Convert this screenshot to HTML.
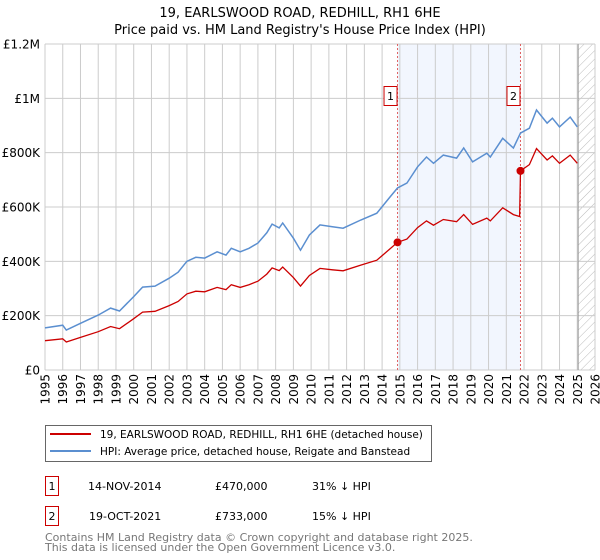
<!DOCTYPE html>
<html><head><meta charset="utf-8"><style>
body{margin:0;background:#fff;font-family:"DejaVu Sans","Liberation Sans",sans-serif;}
svg{display:block}
</style></head><body>
<svg id="c" width="600" height="560" xmlns="http://www.w3.org/2000/svg" font-family="DejaVu Sans, Liberation Sans, sans-serif">
<text x="300" y="17" text-anchor="middle" font-size="13" fill="#000">19, EARLSWOOD ROAD, REDHILL, RH1 6HE</text>
<text x="300" y="34" text-anchor="middle" font-size="13" fill="#000">Price paid vs. HM Land Registry's House Price Index (HPI)</text>
<defs><pattern id="hatch" width="6" height="6" patternUnits="userSpaceOnUse" patternTransform="rotate(45)"><line x1="0" y1="0" x2="0" y2="6" stroke="#bbb" stroke-width="1"/></pattern></defs>
<g id="plot"></g>
<g>
<rect x="45.5" y="425.5" width="386" height="36" fill="#fff" stroke="#666"/>
<line x1="50" y1="434" x2="91" y2="434" stroke="#cc0000" stroke-width="2"/>
<text x="100" y="438" font-size="10.5">19, EARLSWOOD ROAD, REDHILL, RH1 6HE (detached house)</text>
<line x1="50" y1="451" x2="91" y2="451" stroke="#5b8fd0" stroke-width="2"/>
<text x="100" y="455" font-size="10.5">HPI: Average price, detached house, Reigate and Banstead</text>
</g>
<g font-size="11">
<rect x="45.5" y="476.5" width="13" height="19" fill="#fff" stroke="#cc0000"/>
<text x="52" y="490" text-anchor="middle">1</text>
<text x="88" y="490">14-NOV-2014</text>
<text x="215" y="490">£470,000</text>
<text x="312" y="490">31% ↓ HPI</text>
<rect x="45.5" y="506.5" width="13" height="19" fill="#fff" stroke="#cc0000"/>
<text x="52" y="520" text-anchor="middle">2</text>
<text x="89" y="520">19-OCT-2021</text>
<text x="215" y="520">£733,000</text>
<text x="312" y="520">15% ↓ HPI</text>
</g>
<text x="45" y="541" font-size="11" fill="#777">Contains HM Land Registry data © Crown copyright and database right 2025.</text>
<text x="45" y="551" font-size="11" fill="#777">This data is licensed under the Open Government Licence v3.0.</text>
</svg>
<script>
const hpiYears=[1995.0,1996.0,1996.2,1997.0,1998.0,1998.7,1999.2,2000.0,2000.5,2001.2,2002.0,2002.5,2003.0,2003.5,2004.0,2004.7,2005.2,2005.5,2006.0,2006.5,2007.0,2007.5,2007.8,2008.2,2008.4,2009.0,2009.4,2009.9,2010.5,2011.2,2011.8,2012.8,2013.7,2014.45,2014.87,2015.4,2016.0,2016.5,2016.9,2017.45,2018.2,2018.6,2019.1,2019.9,2020.1,2020.8,2021.4,2021.8,2022.3,2022.7,2023.3,2023.6,2024.0,2024.6,2025.0];
const hpiValues=[155,165,147,172,202,228,217,270,305,309,338,360,400,415,412,435,423,448,435,448,467,505,537,523,541,485,441,497,534,527,522,552,577,637,670,688,748,784,761,791,780,817,766,798,784,853,817,872,890,957,909,927,895,931,895];
const redYears=[1995.0,1996.0,1996.2,1997.0,1998.0,1998.7,1999.2,2000.0,2000.5,2001.2,2002.0,2002.5,2003.0,2003.5,2004.0,2004.7,2005.2,2005.5,2006.0,2006.5,2007.0,2007.5,2007.8,2008.2,2008.4,2009.0,2009.4,2009.9,2010.5,2011.2,2011.8,2012.8,2013.7,2014.45,2014.87,2015.4,2016.0,2016.5,2016.9,2017.45,2018.2,2018.6,2019.1,2019.9,2020.1,2020.8,2021.4,2021.75,2021.8,2022.3,2022.7,2023.3,2023.6,2024.0,2024.6,2025.0];
const redValues=[108,115,103,120,141,160,152,189,213,216,237,252,280,290,288,304,296,314,304,314,327,353,376,366,379,340,309,348,374,369,365,386,404,446,470,482,524,549,533,554,546,572,536,559,549,597,572,565,733,756,815,773,788,761,791,761];
const saleYears=[2014.87,2021.8];
const saleValues=[470,733];
const saleLabels=["1","2"];
const yTicks=[0,200,400,600,800,1000,1200];
const yTickLabels=["£0","£200K","£400K","£600K","£800K","£1M","£1.2M"];
const xTicks=[1995,1996,1997,1998,1999,2000,2001,2002,2003,2004,2005,2006,2007,2008,2009,2010,2011,2012,2013,2014,2015,2016,2017,2018,2019,2020,2021,2022,2023,2024,2025,2026];

const X0=45,X1=595,Y0=370,Y1=44;
const xs=y=>X0+(y-1995)/(2026-1995)*(X1-X0);
const ys=v=>Y0-v/1200*(Y0-Y1);
const NS="http://www.w3.org/2000/svg";
const g=document.getElementById('plot');
function mk(t,a,p){const e=document.createElementNS(NS,t);for(const k in a)e.setAttribute(k,a[k]);(p||g).appendChild(e);return e;}

const sh=mk('rect',{x:xs(saleYears[0]),y:Y1,width:xs(saleYears[1])-xs(saleYears[0]),height:Y0-Y1,fill:'#f2f6fe'});


const ht=mk('rect',{x:xs(2025.05),y:Y1,width:X1-xs(2025.05),height:Y0-Y1,fill:'url(#hatch)'});


xTicks.forEach(t=>{const l=mk('line',{x1:xs(t),x2:xs(t),y1:Y1,y2:Y0,stroke:'#ccc','stroke-width':1});


const tx=mk('text',{transform:`translate(${xs(t)+4.5},374) rotate(-90)`,'text-anchor':'end','font-size':'12',fill:'#000'});tx.textContent=t;

});
yTicks.forEach((t,i)=>{const l=mk('line',{x1:X0,x2:X1,y1:ys(t),y2:ys(t),stroke:'#ccc','stroke-width':1});


const tx=mk('text',{x:40,y:ys(t)+4.5,'text-anchor':'end','font-size':'12',fill:'#000'});tx.textContent=yTickLabels[i];

});
const nl=mk('line',{x1:xs(2025.05),x2:xs(2025.05),y1:Y1,y2:Y0,stroke:'#999','stroke-width':1});


saleYears.forEach((s,i)=>{const l=mk('line',{x1:xs(s),x2:xs(s),y1:Y1,y2:Y0,stroke:'#e06060','stroke-width':1,'stroke-dasharray':'2,2'});


const r=mk('rect',{x:xs(s)-13.5,y:86.5,width:13,height:19,fill:'#fff',stroke:'#cc0000'});


const t=mk('text',{x:xs(s)-7,y:100,'text-anchor':'middle','font-size':'11'});t.textContent=saleLabels[i];

});
const hp=mk('path',{d:hpiYears.map((y,i)=>(i?'L':'M')+xs(y).toFixed(1)+','+ys(hpiValues[i]).toFixed(1)).join(''),fill:'none',stroke:'#5b8fd0','stroke-width':1.5});


const rp=mk('path',{d:redYears.map((y,i)=>(i?'L':'M')+xs(y).toFixed(1)+','+ys(redValues[i]).toFixed(1)).join(''),fill:'none',stroke:'#cc0000','stroke-width':1.3});


saleYears.forEach((s,i)=>{const c=mk('circle',{cx:xs(s),cy:ys(saleValues[i]),r:4,fill:'#cc0000'});

});
</script>
</body></html>
